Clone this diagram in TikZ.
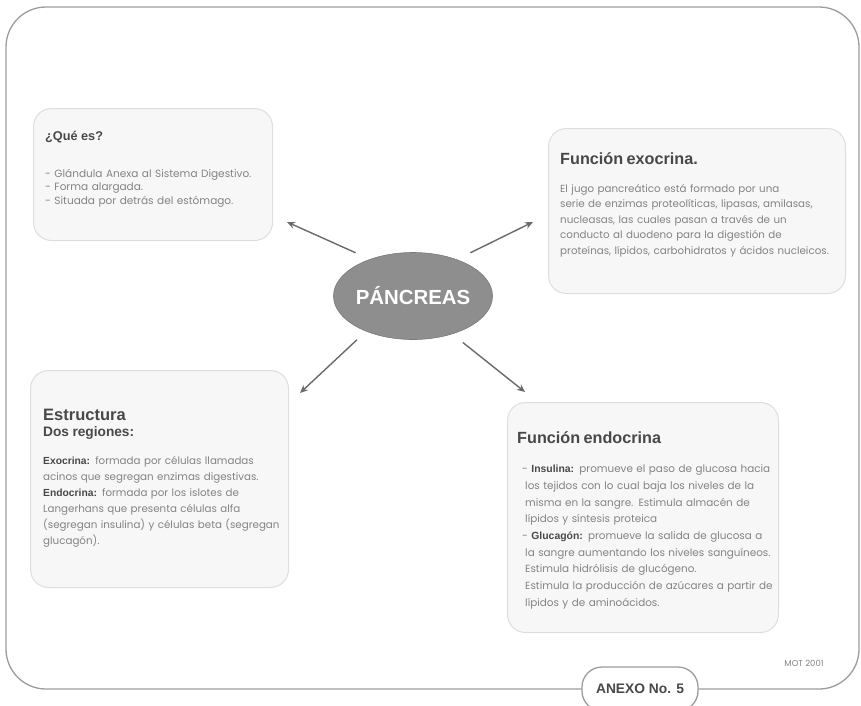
\documentclass[tikz,border=0pt]{standalone}
\usepackage{fontspec}
\setmainfont{Poppins}
\newfontfamily\titlefont{Liberation Sans}
\usetikzlibrary{shapes.geometric,arrows.meta}

\definecolor{marco}{HTML}{9C9C9C}
\definecolor{cajafondo}{HTML}{F7F7F7}
\definecolor{cajaborde}{HTML}{DEDEDE}
\definecolor{titulo}{HTML}{484848}
\definecolor{cuerpo}{HTML}{838383}
\definecolor{flecha}{HTML}{6A6A6A}
\definecolor{elipse}{HTML}{8E8E8E}

\newcommand{\tit}[2]{{\titlefont\bfseries\fontsize{#1}{#1}\selectfont\color{titulo}#2}}
\newcommand{\negr}[1]{{\titlefont\bfseries\color{titulo}#1}}

\begin{document}
\begin{tikzpicture}[x=1pt,y=-1pt,
    caja/.style={draw=cajaborde,fill=cajafondo,line width=1pt,rounded corners=18pt,anchor=north west},
    texto/.style={align=left,anchor=north west,inner sep=0pt,text=cuerpo},
    flechita/.style={draw=flecha,line width=1.4pt,-{Stealth[length=8pt,width=7pt]}}]

\useasboundingbox (0,0) rectangle (861,705);

% Marco %
\draw[marco,line width=1.3pt,rounded corners=40pt] (6,7) rectangle (859,689);

% Centro %
\node[ellipse,fill=elipse,draw=elipse!85!black,line width=0.6pt,minimum width=159pt,minimum height=87pt,
    inner xsep=-3pt,outer sep=12pt,text=white,font=\titlefont\bfseries\fontsize{20.4}{20.4}\selectfont] (pancreas) at (413,296) {PÁNCREAS};

% Cajas %
\node[caja,minimum width=239pt,minimum height=132pt] (quees) at (33,108) {};
\node[texto,text width=224pt,font=\fontsize{10.5}{13.3}\selectfont] (quees-txt) at (45,131)
    {\tit{12.7}{¿Qué es?}\\[23.7pt]
     - Glándula Anexa al Sistema Digestivo.\\
     - Forma alargada.\\
     - Situada por detrás del estómago.};

\node[caja,minimum width=297pt,minimum height=165pt] (exocrina) at (548,128) {};
\node[texto,text width=280pt,font=\fontsize{10.3}{15.5}\selectfont] (exocrina-txt) at (560,152)
    {\tit{16.2}{Función exocrina.}\\[12.5pt]
     El jugo pancreático está formado por una\\
     serie de enzimas proteolíticas, lipasas, amilasas,\\
     nucleasas, las cuales pasan a través de un\\
     conducto al duodeno para la digestión de\\
     proteínas, lípidos, carbohidratos y ácidos nucleicos.};

\node[caja,minimum width=258pt,minimum height=217pt] (estructura) at (30,370) {};
\node[texto,text width=244pt,font=\fontsize{10.3}{16}\selectfont] (estructura-txt) at (43,409)
    {\tit{16.5}{Estructura}\\
     \tit{13.7}{Dos regiones:}\\[12pt]
     \negr{Exocrina:} formada por células llamadas\\
     acinos que segregan enzimas digestivas.\\
     \negr{Endocrina:} formada por los islotes de\\
     Langerhans que presenta células alfa\\
     (segregan insulina) y células beta (segregan\\
     glucagón).};

\node[caja,minimum width=271pt,minimum height=230pt] (endocrina) at (507,402) {};
\node[texto,text width=256pt,font=\fontsize{10.4}{16.7}\selectfont] (endocrina-txt) at (517,431)
    {\tit{16.2}{Función endocrina}\\[13pt]
     \hspace*{5pt}- \negr{Insulina:} promueve el paso de glucosa hacia\\
     \hspace*{8pt}los tejidos con lo cual baja los niveles de la\\
     \hspace*{8pt}misma en la sangre. Estimula almacén de\\
     \hspace*{8pt}lípidos y síntesis proteica\\
     \hspace*{5pt}- \negr{Glucagón:} promueve la salida de glucosa a\\
     \hspace*{8pt}la sangre aumentando los niveles sanguíneos.\\
     \hspace*{8pt}Estimula hidrólisis de glucógeno.\\
     \hspace*{8pt}Estimula la producción de azúcares a partir de\\
     \hspace*{8pt}lípidos y de aminoácidos.};

% Flechas %
\coordinate (pquees) at (287,222);
\coordinate (pexocrina) at (533,222);
\coordinate (pestructura) at (300,393);
\coordinate (pendocrina) at (525,392);
\draw[flechita] (pancreas.143) -- (pquees);
\draw[flechita] (pancreas.37) -- (pexocrina);
\draw[flechita] (pancreas.218) -- (pestructura);
\draw[flechita] (pancreas.317) -- (pendocrina);

% Pie %
\node[draw=marco,fill=white,line width=1.3pt,rounded corners=20pt,minimum width=116pt,minimum height=44pt,
    text=titulo,font=\titlefont\bfseries\fontsize{13.8}{13.8}\selectfont] (anexo) at (640,689) {ANEXO No. 5};
\node[text=cuerpo,font=\fontsize{8.5}{8.5}\selectfont] (mot) at (804,663) {MOT 2001};
\end{tikzpicture}
\end{document}
